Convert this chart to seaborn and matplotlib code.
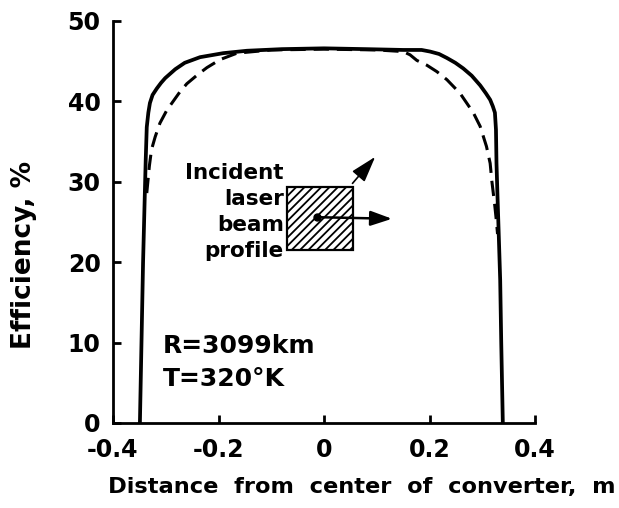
import matplotlib
matplotlib.use("Agg")
import matplotlib.pyplot as plt
from matplotlib.patches import Rectangle
import seaborn as sns
import pandas as pd

# ---- data ----
solid_x = [-0.349, -0.346, -0.343, -0.340, -0.338, -0.336, -0.333, -0.330, -0.325, -0.317,
           -0.309, -0.301, -0.282, -0.264, -0.235, -0.191, -0.146, -0.08, 0.0, 0.08,
           0.15, 0.185, 0.201, 0.218, 0.233, 0.249, 0.264, 0.280, 0.296, 0.307,
           0.315, 0.320, 0.324, 0.326, 0.327, 0.329, 0.331, 0.334, 0.336, 0.339]
solid_y = [0.0, 10.0, 20.0, 27.7, 32.7, 36.8, 38.6, 39.8, 40.8, 41.6,
           42.3, 42.9, 44.0, 44.8, 45.5, 46.0, 46.3, 46.5, 46.6, 46.5,
           46.4, 46.4, 46.2, 45.9, 45.4, 44.8, 44.1, 43.2, 42.0, 41.0,
           40.2, 39.4, 38.6, 36.5, 32.3, 28.0, 24.0, 17.8, 10.0, 0.0]

dashed_x = [-0.336, -0.331, -0.327, -0.320, -0.311, -0.298, -0.273, -0.260, -0.240, -0.222,
            -0.197, -0.165, -0.10, 0.0, 0.10, 0.150, 0.163, 0.176, 0.195, 0.214,
            0.233, 0.258, 0.283, 0.296, 0.308, 0.315, 0.318, 0.324, 0.327, 0.329]
dashed_y = [28.6, 32.0, 34.0, 35.6, 37.3, 38.9, 41.2, 42.2, 43.3, 44.2,
            45.2, 46.0, 46.4, 46.5, 46.4, 46.2, 45.8, 45.1, 44.5, 43.7,
            42.7, 41.0, 38.6, 36.9, 34.4, 32.3, 30.2, 26.9, 25.0, 23.5]

x_ticks = [-0.4, -0.2, 0.0, 0.2, 0.4]
x_tick_labels = ["-0.4", "-0.2", "0", "0.2", "0.4"]
y_ticks = [0, 10, 20, 30, 40, 50]
y_tick_labels = ["0", "10", "20", "30", "40", "50"]

df = pd.concat([
    pd.DataFrame({"x": solid_x, "y": solid_y, "curve": "solid"}),
    pd.DataFrame({"x": dashed_x, "y": dashed_y, "curve": "dashed"}),
], ignore_index=True)

sns.set_style("ticks")
plt.rcParams["font.family"] = ["DejaVu Sans"]
plt.rcParams["font.weight"] = "bold"
plt.rcParams["text.color"] = "black"
plt.rcParams["axes.labelcolor"] = "black"
plt.rcParams["xtick.color"] = "black"
plt.rcParams["ytick.color"] = "black"
plt.rcParams["hatch.linewidth"] = 1.3

fig = plt.figure(figsize=(6.19, 5.08), dpi=100)
ax = fig.add_axes([113 / 619, 1 - 423 / 508, 422 / 619, 402 / 508])

sns.lineplot(data=df, x="x", y="y", style="curve", units="curve", estimator=None,
             sort=False, color="black", legend=False, ax=ax,
             dashes={"solid": "", "dashed": (5, 2.6)}, lw=2.4)
for ln in ax.lines:
    ln.set_solid_joinstyle("round")
    if ln.get_linestyle() == "-":
        ln.set_linewidth(2.7)
    else:
        ln.set_linewidth(2.2)

ax.set_xlim(-0.4, 0.4)
ax.set_ylim(0, 50)
ax.set_xticks(x_ticks)
ax.set_xticklabels(x_tick_labels)
ax.set_yticks(y_ticks)
ax.set_yticklabels(y_tick_labels)
ax.tick_params(axis="both", direction="in", length=6, width=2, colors="black",
               labelsize=17, labelcolor="black")
ax.tick_params(axis="x", pad=11)
ax.tick_params(axis="y", pad=9)
for lab in ax.get_xticklabels() + ax.get_yticklabels():
    lab.set_fontweight("bold")
sns.despine(ax=ax)
for s in ("left", "bottom"):
    ax.spines[s].set_linewidth(2)
    ax.spines[s].set_color("black")

ax.set_xlabel("Distance  from  center  of  converter,  m", fontsize=16.2,
              fontweight="bold", color="black")
ax.set_ylabel("Efficiency, %", fontsize=19, fontweight="bold", color="black")
ax.xaxis.set_label_coords(0.59, -0.135)
ax.yaxis.set_label_coords(-0.18, 0.418)

# inset: incident laser beam profile
ax.add_patch(Rectangle((-0.070, 21.5), 0.125, 7.9, facecolor="white",
                       edgecolor="black", hatch="////", lw=1.6, zorder=3))
ax.annotate("", xy=(0.129, 25.4), xytext=(-0.013, 25.6),
            arrowprops=dict(arrowstyle="-|>,head_length=1.3,head_width=0.45",
                            lw=1.8, color="black", shrinkA=0, shrinkB=0), zorder=4)
ax.plot([-0.013], [25.6], marker="o", ms=5, color="black", zorder=5)
ax.annotate("", xy=(0.097, 33.1), xytext=(0.054, 29.8),
            arrowprops=dict(arrowstyle="-|>,head_length=1.6,head_width=0.5",
                            lw=1.2, color="black", shrinkA=0, shrinkB=0), zorder=4)
ax.text(-0.076, 26.2, "Incident\nlaser\nbeam\nprofile", ha="right", va="center",
        multialignment="right", fontsize=15.5, fontweight="bold", linespacing=1.38,
        color="black")

ax.text(-0.305, 8.7, "R=3099km", ha="left", va="baseline", fontsize=18,
        fontweight="bold", color="black")
ax.text(-0.305, 4.6, "T=320°K", ha="left", va="baseline", fontsize=18,
        fontweight="bold", color="black")

fig.savefig("out.png", dpi=100)
